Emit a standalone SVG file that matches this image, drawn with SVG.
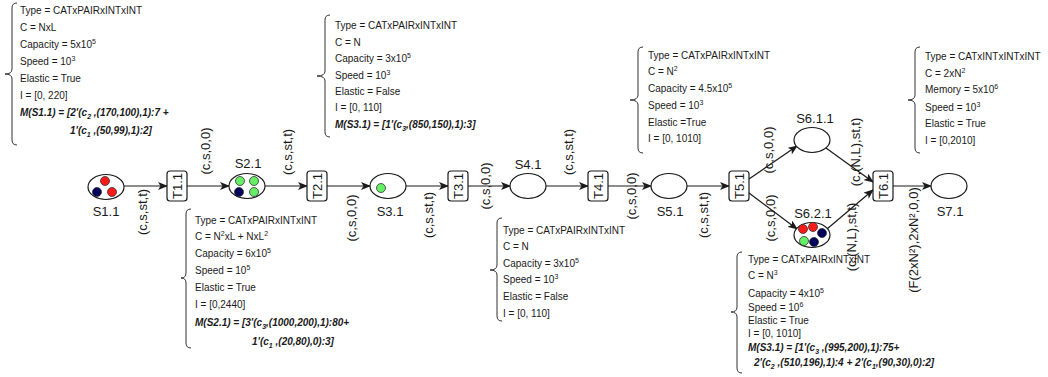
<svg xmlns="http://www.w3.org/2000/svg" width="1048" height="377" viewBox="0 0 1048 377">
<style>
.ann{font-family:"Liberation Sans",Arial,sans-serif;font-size:10px;fill:#1a1a1a}
.m{font-weight:bold;font-style:italic}
.lbl{font-family:"Liberation Sans",Arial,sans-serif;font-size:13px;fill:#1a1a1a;text-anchor:middle;dominant-baseline:central}
.node{fill:#fff;stroke:#1a1a1a;stroke-width:1.2}
.edge{stroke:#1a1a1a;stroke-width:1.2;fill:none;marker-end:url(#arr)}
.brace{fill:none;stroke:#333;stroke-width:1}
.tr{fill:#fff;stroke:#1a1a1a;stroke-width:1.2}
.r{fill:#ff1a1a;stroke:#333;stroke-width:0.8}
.b{fill:#00005a;stroke:#333;stroke-width:0.8}
.g{fill:#66ee66;stroke:#333;stroke-width:0.8}
</style>
<defs>
<marker id="arr" viewBox="0 0 10 8" refX="9" refY="4" markerWidth="10" markerHeight="8" markerUnits="userSpaceOnUse" orient="auto">
<path d="M0,0 L10,4 L0,8 L2.5,4 z" fill="#1a1a1a"/>
</marker>
</defs>
<rect width="1048" height="377" fill="#fff"/>

<g id="connectors">
<line class="edge" x1="124" y1="186" x2="167" y2="186"/>
<line class="edge" x1="187" y1="186" x2="229" y2="186"/>
<line class="edge" x1="265" y1="186" x2="307" y2="186"/>
<line class="edge" x1="327" y1="186" x2="370" y2="186"/>
<line class="edge" x1="406" y1="186" x2="448" y2="186"/>
<line class="edge" x1="468" y1="186" x2="510" y2="186"/>
<line class="edge" x1="546" y1="186" x2="588" y2="186"/>
<line class="edge" x1="608" y1="186" x2="651" y2="186"/>
<line class="edge" x1="687" y1="186" x2="729" y2="186"/>
<line class="edge" x1="749" y1="179" x2="797" y2="146"/>
<line class="edge" x1="749" y1="193" x2="797" y2="229"/>
<line class="edge" x1="826" y1="148" x2="873" y2="182"/>
<line class="edge" x1="827" y1="229" x2="873" y2="190"/>
<line class="edge" x1="893" y1="186" x2="931" y2="186"/>
<text class="lbl" transform="rotate(-90 142 212)" x="142" y="212">(c,s,st,t)</text>
<text class="lbl" transform="rotate(-90 205 151)" x="205" y="151">(c,s,0,0)</text>
<text class="lbl" transform="rotate(-90 287 152)" x="287" y="152">(c,s,st,t)</text>
<text class="lbl" transform="rotate(-90 351 218)" x="351" y="218">(c,s,0,0)</text>
<text class="lbl" transform="rotate(-90 428 215)" x="428" y="215">(c,s,st,t)</text>
<text class="lbl" transform="rotate(-90 485 186)" x="485" y="186">(c,s,0,0)</text>
<text class="lbl" transform="rotate(-90 568 152)" x="568" y="152">(c,s,st,t)</text>
<text class="lbl" transform="rotate(-90 631 196)" x="631" y="196">(c,s,0,0)</text>
<text class="lbl" transform="rotate(-90 703 215)" x="703" y="215">(c,s,st,t)</text>
<text class="lbl" transform="rotate(-90 768 150)" x="768" y="150">(c,s,0,0)</text>
<text class="lbl" transform="rotate(-90 770 218)" x="770" y="218">(c,s,0,0)</text>
<text class="lbl" transform="rotate(-90 855 152)" x="855" y="152">(c,(N,L),st,t)</text>
<text class="lbl" transform="rotate(-90 851 237)" x="851" y="237">(c,(N,L),st,t)</text>
<text class="lbl" transform="rotate(-90 913 240)" x="913" y="240">(F(2xN²),2xN²,0,0)</text>
</g>

<g id="S1.1">
<ellipse class="node" cx="106" cy="187" rx="18" ry="12.5"/>
<circle class="r" cx="105" cy="181" r="4.5"/>
<circle class="b" cx="97" cy="192" r="4.5"/>
<circle class="r" cx="112" cy="192" r="4.5"/>
<text class="lbl" x="106" y="211">S1.1</text>
</g>
<g id="T1.1">
<rect class="tr" x="167" y="171" width="20" height="30" rx="3"/>
<text class="lbl" transform="rotate(-90 177 186)" x="177" y="186">T1.1</text>
</g>
<g id="S2.1">
<ellipse class="node" cx="247" cy="186" rx="18" ry="12.5"/>
<circle class="g" cx="240" cy="181" r="4.5"/>
<circle class="g" cx="254" cy="181" r="4.5"/>
<circle class="b" cx="239" cy="192" r="4.5"/>
<circle class="g" cx="254" cy="192" r="4.5"/>
<text class="lbl" x="248" y="163">S2.1</text>
</g>
<g id="T2.1">
<rect class="tr" x="307" y="171" width="20" height="30" rx="3"/>
<text class="lbl" transform="rotate(-90 317 186)" x="317" y="186">T2.1</text>
</g>
<g id="S3.1">
<ellipse class="node" cx="388" cy="186" rx="18" ry="12.5"/>
<circle class="g" cx="381" cy="188" r="4.5"/>
<text class="lbl" x="390" y="211">S3.1</text>
</g>
<g id="T3.1">
<rect class="tr" x="448" y="171" width="20" height="30" rx="3"/>
<text class="lbl" transform="rotate(-90 458 186)" x="458" y="186">T3.1</text>
</g>
<g id="S4.1">
<ellipse class="node" cx="528" cy="186" rx="18" ry="12.5"/>
<text class="lbl" x="528" y="164">S4.1</text>
</g>
<g id="T4.1">
<rect class="tr" x="588" y="171" width="20" height="30" rx="3"/>
<text class="lbl" transform="rotate(-90 598 186)" x="598" y="186">T4.1</text>
</g>
<g id="S5.1">
<ellipse class="node" cx="669" cy="186" rx="18" ry="12.5"/>
<text class="lbl" x="670" y="211">S5.1</text>
</g>
<g id="T5.1">
<rect class="tr" x="729" y="171" width="20" height="30" rx="3"/>
<text class="lbl" transform="rotate(-90 739 186)" x="739" y="186">T5.1</text>
</g>
<g id="S6.1.1">
<ellipse class="node" cx="812" cy="140" rx="18" ry="12.5"/>
<text class="lbl" x="815" y="118">S6.1.1</text>
</g>
<g id="S6.2.1">
<ellipse class="node" cx="812" cy="235" rx="18" ry="12.5"/>
<circle class="r" cx="803" cy="229" r="4.5"/>
<circle class="r" cx="813" cy="227" r="4.5"/>
<circle class="b" cx="822" cy="233" r="4.5"/>
<circle class="g" cx="804" cy="241" r="4.5"/>
<circle class="b" cx="814" cy="242" r="4.5"/>
<text class="lbl" x="813" y="213">S6.2.1</text>
</g>
<g id="T6.1">
<rect class="tr" x="873" y="171" width="20" height="30" rx="3"/>
<text class="lbl" transform="rotate(-90 883 186)" x="883" y="186">T6.1</text>
</g>
<g id="S7.1">
<ellipse class="node" cx="949" cy="186" rx="18" ry="12.5"/>
<text class="lbl" x="950" y="211">S7.1</text>
</g>

<g id="ann-S1.1">
<path class="brace" d="M17,3 Q12,3 12,8 L12,69 Q12,74 5,74 Q12,74 12,79 L12,140 Q12,145 17,145"/>
<text class="ann" x="20" y="14">Type = CATxPAIRxINTxINT</text>
<text class="ann" x="20" y="31">C = NxL</text>
<text class="ann" x="20" y="48">Capacity = 5x10<tspan font-size="7" dy="-4">5</tspan></text>
<text class="ann" x="20" y="65">Speed = 10<tspan font-size="7" dy="-4">3</tspan></text>
<text class="ann" x="20" y="82">Elastic = True</text>
<text class="ann" x="20" y="99">I = [0, 220]</text>
<text class="ann m" x="20" y="116">M(S1.1) = [2'(c<tspan font-size="7" dy="3">2</tspan><tspan dy="-3"> ,(170,100),1):7 +</tspan></text>
<text class="ann m" x="70" y="134">1'(c<tspan font-size="7" dy="3">1</tspan><tspan dy="-3"> ,(50,99),1):2]</tspan></text>
</g>

<g id="ann-S3.1">
<path class="brace" d="M330,15 Q325,15 325,20 L325,71 Q325,76 317,76 Q325,76 325,81 L325,132 Q325,137 330,137"/>
<text class="ann" x="335" y="29">Type = CATxPAIRxINTxINT</text>
<text class="ann" x="335" y="46">C = N</text>
<text class="ann" x="335" y="62">Capacity = 3x10<tspan font-size="7" dy="-4">5</tspan></text>
<text class="ann" x="335" y="79">Speed = 10<tspan font-size="7" dy="-4">3</tspan></text>
<text class="ann" x="335" y="95">Elastic = False</text>
<text class="ann" x="335" y="111">I = [0, 110]</text>
<text class="ann m" x="335" y="128">M(S3.1) = [1'(c<tspan font-size="7" dy="3">3</tspan><tspan dy="-3">,(850,150),1):3]</tspan></text>
</g>

<g id="ann-S5.1">
<path class="brace" d="M643,47 Q638,47 638,52 L638,95 Q638,100 630,100 Q638,100 638,105 L638,148 Q638,153 643,153"/>
<text class="ann" x="648" y="59">Type = CATxPAIRxINTxINT</text>
<text class="ann" x="648" y="75">C = N<tspan font-size="7" dy="-4">2</tspan></text>
<text class="ann" x="648" y="92">Capacity = 4.5x10<tspan font-size="7" dy="-4">5</tspan></text>
<text class="ann" x="648" y="109">Speed = 10<tspan font-size="7" dy="-4">3</tspan></text>
<text class="ann" x="648" y="126">Elastic =True</text>
<text class="ann" x="648" y="142">I = [0, 1010]</text>
</g>

<g id="ann-T6.1">
<path class="brace" d="M920,47 Q915,47 915,52 L915,95 Q915,100 908,100 Q915,100 915,105 L915,148 Q915,153 920,153"/>
<text class="ann" x="925" y="60">Type = CATxINTxINTxINT</text>
<text class="ann" x="925" y="77">C = 2xN<tspan font-size="7" dy="-4">2</tspan></text>
<text class="ann" x="925" y="93">Memory = 5x10<tspan font-size="7" dy="-4">6</tspan></text>
<text class="ann" x="925" y="111">Speed = 10<tspan font-size="7" dy="-4">3</tspan></text>
<text class="ann" x="925" y="127">Elastic = True</text>
<text class="ann" x="925" y="144">I = [0,2010]</text>
</g>

<g id="ann-S2.1">
<path class="brace" d="M191,209 Q186,209 186,214 L186,273 Q186,278 181,278 Q186,278 186,283 L186,343 Q186,348 191,348"/>
<text class="ann" x="195" y="224">Type = CATxPAIRxINTxINT</text>
<text class="ann" x="195" y="240">C = N<tspan font-size="7" dy="-4">2</tspan><tspan dy="4">xL + NxL</tspan><tspan font-size="7" dy="-4">2</tspan></text>
<text class="ann" x="195" y="257">Capacity = 6x10<tspan font-size="7" dy="-4">5</tspan></text>
<text class="ann" x="195" y="274">Speed = 10<tspan font-size="7" dy="-4">5</tspan></text>
<text class="ann" x="195" y="291">Elastic = True</text>
<text class="ann" x="195" y="308">I = [0,2440]</text>
<text class="ann m" x="195" y="326">M(S2.1) = [3'(c<tspan font-size="7" dy="3">3</tspan><tspan dy="-3">,(1000,200),1):80+</tspan></text>
<text class="ann m" x="252" y="345">1'(c<tspan font-size="7" dy="3">1</tspan><tspan dy="-3"> ,(20,80),0):3]</tspan></text>
</g>

<g id="ann-S4.1">
<path class="brace" d="M502,218 Q497,218 497,223 L497,265 Q497,270 490,270 Q497,270 497,275 L497,316 Q497,321 502,321"/>
<text class="ann" x="503" y="234">Type = CATxPAIRxINTxINT</text>
<text class="ann" x="503" y="250">C = N</text>
<text class="ann" x="503" y="267">Capacity = 3x10<tspan font-size="7" dy="-4">5</tspan></text>
<text class="ann" x="503" y="283">Speed = 10<tspan font-size="7" dy="-4">3</tspan></text>
<text class="ann" x="503" y="300">Elastic = False</text>
<text class="ann" x="503" y="317">I = [0, 110]</text>
</g>

<g id="ann-S6.2.1">
<path class="brace" d="M742,252 Q737,252 737,257 L737,307 Q737,312 731,312 Q737,312 737,317 L737,368 Q737,373 742,373"/>
<text class="ann" x="748" y="263">Type = CATxPAIRxINTxINT</text>
<text class="ann" x="748" y="279">C = N<tspan font-size="7" dy="-4">3</tspan></text>
<text class="ann" x="748" y="297">Capacity = 4x10<tspan font-size="7" dy="-4">5</tspan></text>
<text class="ann" x="748" y="311">Speed = 10<tspan font-size="7" dy="-4">6</tspan></text>
<text class="ann" x="748" y="324">Elastic = True</text>
<text class="ann" x="748" y="337">I = [0, 1010]</text>
<text class="ann m" x="748" y="351">M(S3.1) = [1'(c<tspan font-size="7" dy="3">3</tspan><tspan dy="-3"> ,(995,200),1):75+</tspan></text>
<text class="ann m" x="754" y="366">2'(c<tspan font-size="7" dy="3">2</tspan><tspan dy="-3"> ,(510,196),1):4 + 2'(c</tspan><tspan font-size="7" dy="3">1</tspan><tspan dy="-3">,(90,30),0):2]</tspan></text>
</g>
</svg>
